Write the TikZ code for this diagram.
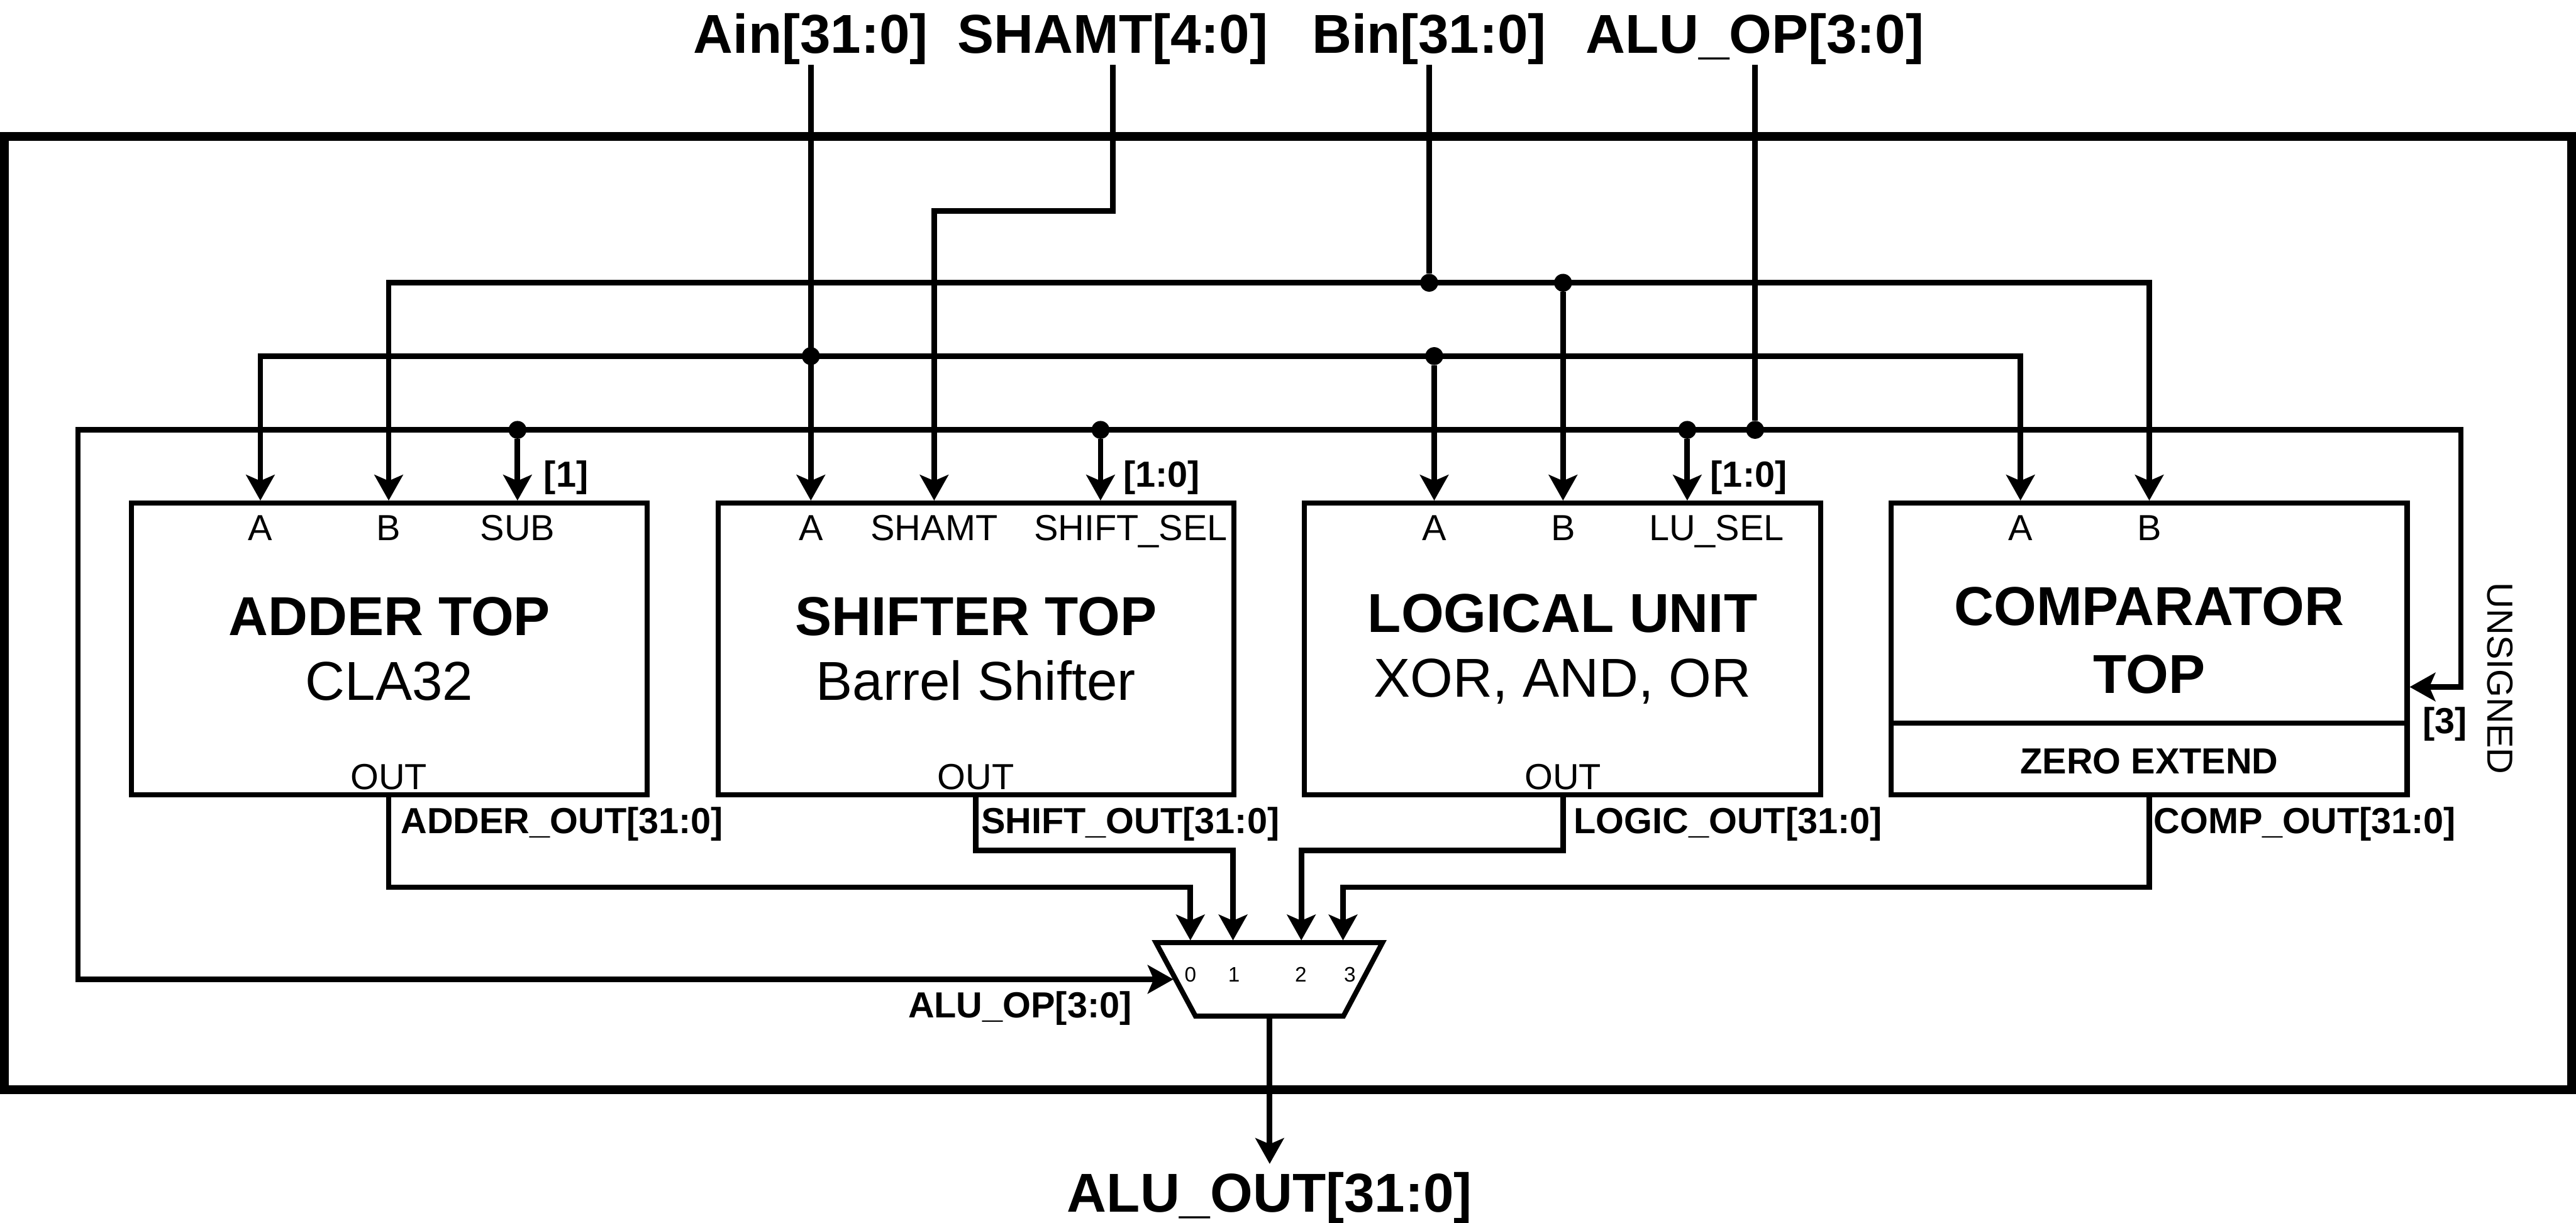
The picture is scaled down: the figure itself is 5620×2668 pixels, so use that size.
\documentclass[tikz,border=0pt]{standalone}
\usepackage{fontspec}
\setmainfont{Liberation Sans}
\usetikzlibrary{positioning,arrows.meta}

\begin{document}
\begin{tikzpicture}[x=0.01cm,y=-0.01cm,node distance=1.43cm,
  >={Stealth[length=0.56cm,width=0.62cm,inset=0.13cm]},
  every node/.style={inner sep=0pt,align=center},
  blk/.style={draw,line width=0.11cm,minimum width=11.25cm,minimum height=6.36cm,font=\fontsize{34}{40}\selectfont},
  port/.style={anchor=base,font=\fontsize{22.5}{27}\selectfont},
  tag/.style={font=\fontsize{22.5}{27}\selectfont\bfseries},
  pin/.style={anchor=base,font=\fontsize{34}{40}\selectfont\bfseries},
  wire/.style={line width=0.12cm},
  dot/.style={circle,fill,minimum size=0.39cm}]
  \useasboundingbox (0,0) rectangle (5620,2668);
  % outer frame
  \draw[line width=0.19cm] (10,298) rectangle (5610,2378);
  % blocks
  \node[blk] (adder) at (849.5,1416) {\textbf{ADDER TOP}\\CLA32};
  \node[blk,right=of adder] (shifter) {\textbf{SHIFTER TOP}\\Barrel Shifter};
  \node[blk,right=of shifter] (logic) {\textbf{LOGICAL UNIT}\\XOR, AND, OR};
  \node[blk,right=of logic] (comp) {};
  \node[font=\fontsize{34}{42}\selectfont\bfseries] (ctitle) at (4689,1397) {COMPARATOR\\TOP};
  \node[tag,anchor=base] (zext) at (4689,1688) {ZERO EXTEND};
  \draw[line width=0.11cm] (comp.west |- 0,1578) -- (comp.east |- 0,1578);
  % ports
  \node[port] (aA) at (568,1179) {A};
  \node[port] (aB) at (848,1179) {B};
  \node[port] (aS) at (1129,1179) {SUB};
  \node[port] (aO) at (848,1723) {OUT};
  \node[port] (sA) at (1769,1179) {A};
  \node[port] (sS) at (2038,1179) {SHAMT};
  \node[port] (sL) at (2467,1179) {SHIFT\_SEL};
  \node[port] (sO) at (2129,1723) {OUT};
  \node[port] (lA) at (3129,1179) {A};
  \node[port] (lB) at (3410,1179) {B};
  \node[port] (lL) at (3745,1179) {LU\_SEL};
  \node[port] (lO) at (3410,1723) {OUT};
  \node[port] (cA) at (4408,1179) {A};
  \node[port] (cB) at (4689,1179) {B};
  % mux
  \coordinate (mtl) at (2522,2057);
  \coordinate (mtr) at (3016,2057);
  \coordinate (mbr) at (2931,2217);
  \coordinate (mbl) at (2608,2217);
  \draw[line width=0.11cm] (mtl) -- (mtr) -- (mbr) -- (mbl) -- cycle;
  \foreach \i/\x in {0/2597,1/2692,2/2838,3/2945}
    \node[anchor=base,font=\fontsize{13}{15}\selectfont] (mi\i) at (\x,2143) {\i};
  \coordinate (m0) at (2597,2052);
  \coordinate (m1) at (2690,2052);
  \coordinate (m2) at (2839,2052);
  \coordinate (m3) at (2930,2052);
  \coordinate (msel) at (2560,2137);
  \coordinate (mout) at (2770,2222);
  % junctions
  \node[dot] (jb) at (3118,617) {};
  \node[dot] (jlb) at (3410,617) {};
  \node[dot] (ja) at (1769,777) {};
  \node[dot] (jla) at (3129,777) {};
  \node[dot] (jsub) at (1129,938) {};
  \node[dot] (jsel) at (2401,938) {};
  \node[dot] (jlu) at (3681,938) {};
  \node[dot] (jop) at (3829,938) {};
  % pins
  \node[pin] (ain) at (1769,116) {Ain[31:0]};
  \node[pin] (shamt) at (2428,116) {SHAMT[4:0]};
  \node[pin] (bin) at (3118,116) {Bin[31:0]};
  \node[pin] (aluop) at (3829,116) {ALU\_OP[3:0]};
  \node[pin] (aluout) at (2770,2644) {ALU\_OUT[31:0]};
  % inputs
  \draw[wire,->] (ain.south) -- (shifter.north -| sA);
  \draw[wire,<->] (adder.north -| aA) |- (ja.center) -| (comp.north -| cA);
  \draw[wire,->] (jla) -- (logic.north -| lA);
  \draw[wire] (bin.south) -- (jb);
  \draw[wire,<->] (adder.north -| aB) |- (jb.center) -| (comp.north -| cB);
  \draw[wire,->] (jlb) -- (logic.north -| lB);
  \coordinate (shk) at (2428,460);
  \draw[wire,->] (shamt.south) -- (shk) -| (shifter.north -| sS);
  \draw[wire] (aluop.south) -- (jop);
  \coordinate (opl) at (170,938);
  \coordinate (uns) at (5369,1499);
  \draw[wire,<->] (msel) -| (opl) -| (uns) -- (uns -| comp.east);
  \draw[wire,->] (jsub) -- (adder.north -| jsub);
  \draw[wire,->] (jsel) -- (shifter.north -| jsel);
  \draw[wire,->] (jlu) -- (logic.north -| jlu);
  % outputs
  \coordinate (yb1) at (0,1936);
  \coordinate (yb2) at (0,1856);
  \draw[wire,->] (adder.south -| aO) |- (yb1 -| m0) -- (m0);
  \draw[wire,->] (shifter.south -| sO) |- (yb2 -| m1) -- (m1);
  \draw[wire,->] (logic.south -| lO) |- (yb2 -| m2) -- (m2);
  \draw[wire,->] (comp.south -| cB) |- (yb1 -| m3) -- (m3);
  \draw[wire,->] (mout) -- ([yshift=0.17cm]aluout.north);
  % labels
  \node[tag,anchor=base west] (lsub) at (1186,1063) {[1]};
  \node[tag,anchor=base west] (lsel) at (2450,1063) {[1:0]};
  \node[tag,anchor=base west] (llu) at (3731,1063) {[1:0]};
  \node[tag,anchor=base west] (luns) at (5285,1600) {[3]};
  \node[port,anchor=base west,rotate=-90] (unsg) at (5427,1271) {UNSIGNED};
  \node[tag,anchor=base west] (laout) at (874,1819) {ADDER\_OUT[31:0]};
  \node[tag,anchor=base west] (lsout) at (2140,1819) {SHIFT\_OUT[31:0]};
  \node[tag,anchor=base west] (llout) at (3433,1819) {LOGIC\_OUT[31:0]};
  \node[tag,anchor=base west] (lcout) at (4698,1819) {COMP\_OUT[31:0]};
  \node[tag,anchor=base east] (lop) at (2470,2220) {ALU\_OP[3:0]};
\end{tikzpicture}
\end{document}
